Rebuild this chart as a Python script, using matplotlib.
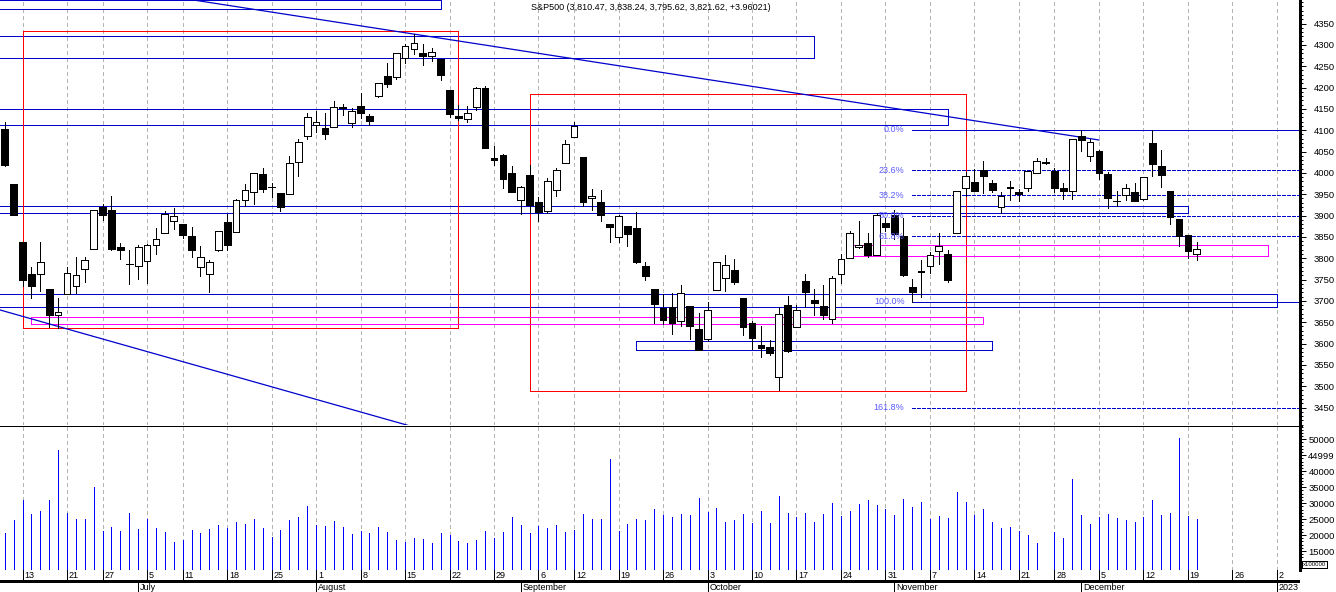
import matplotlib
matplotlib.use('Agg')
import matplotlib.pyplot as plt
from matplotlib.patches import Rectangle
from matplotlib.lines import Line2D
from matplotlib.ticker import MultipleLocator, FixedLocator, FixedFormatter
import numpy as np
import pandas as pd

plt.rcParams['font.family'] = ['Liberation Sans', 'DejaVu Sans']
# crisp, pixel-style lines like the charting package
plt.rcParams['lines.antialiased'] = False
plt.rcParams['patch.antialiased'] = False

# ---- data -------------------------------------------------------------
holidays = ['2022-06-20', '2022-07-04', '2022-09-05', '2022-11-24']
trade_days = pd.bdate_range('2022-06-09', '2022-12-20', freq='C', holidays=holidays)
future_days = pd.bdate_range('2022-12-21', '2023-01-06')

opens = [4101.65, 3974.39, 3838.15, 3763.52, 3764.05, 3728.18, 3665.90,
         3715.31, 3733.89, 3774.71, 3821.75, 3920.76, 3913.00, 3825.09, 3785.99,
         3781.00, 3792.61, 3831.98, 3858.85, 3888.26, 3880.94, 3851.95, 3779.67,
         3763.99, 3818.00, 3883.79, 3860.73, 3935.32, 3955.47, 3998.43, 3965.72,
         3953.22, 3951.43, 4026.13, 4087.33,
         4112.38, 4104.21, 4107.96, 4154.85, 4115.87, 4155.93, 4133.11, 4181.02,
         4227.40, 4225.02, 4269.37, 4290.46, 4280.40, 4273.13, 4266.31, 4195.08,
         4133.09, 4126.55, 4153.26, 4198.74, 4034.58, 4041.25, 4000.67,
         3936.73, 3994.66, 3930.89, 3909.43, 3959.94, 4022.94, 4083.67, 4037.12,
         3940.73, 3932.41, 3880.95, 3849.91, 3875.23, 3871.40, 3782.36, 3727.14,
         3682.72, 3686.44, 3651.94, 3687.01, 3633.48,
         3609.78, 3726.46, 3753.25, 3771.97, 3706.74, 3647.51, 3595.86, 3590.83,
         3520.37, 3690.41, 3638.65, 3746.26, 3703.11, 3689.05, 3657.10, 3762.01,
         3799.44, 3825.97, 3834.69, 3808.26, 3881.85,
         3901.79, 3852.90, 3733.25, 3766.98, 3780.71, 3817.02, 3810.94, 3859.89,
         3963.72, 3977.97, 4006.41, 3976.82, 3919.26, 3966.39, 3956.23, 3965.51,
         4000.30, 4023.34, 4005.36, 3964.19, 3957.18,
         4087.14, 4040.17, 4052.02, 3996.63, 3933.28, 3947.79, 3954.17, 3939.29,
         4069.38, 4015.54, 3958.37, 3890.91, 3853.79, 3810.47]
highs = [4119.10, 3974.39, 3838.15, 3778.18, 3837.56, 3728.18, 3707.71,
         3779.65, 3801.79, 3802.58, 3913.65, 3927.72, 3945.86, 3836.50, 3818.99,
         3829.82, 3832.19, 3870.91, 3910.63, 3918.50, 3880.94, 3873.41, 3829.44,
         3796.41, 3863.62, 3902.44, 3939.81, 3974.13, 3999.29, 4012.44, 3975.30,
         3953.22, 4039.56, 4078.95, 4140.15,
         4144.95, 4140.47, 4167.66, 4161.29, 4151.58, 4186.62, 4137.30, 4211.03,
         4257.91, 4280.47, 4301.79, 4325.28, 4302.18, 4292.53, 4266.31, 4195.08,
         4159.77, 4156.56, 4200.54, 4203.04, 4062.99, 4044.98, 4015.37,
         3970.23, 4018.43, 3942.55, 3987.89, 4010.50, 4076.81, 4119.28, 4037.12,
         3961.94, 3959.14, 3880.95, 3900.45, 3876.01, 3907.07, 3790.65, 3727.14,
         3715.67, 3717.53, 3736.74, 3687.01, 3671.44,
         3698.35, 3791.92, 3806.91, 3797.93, 3706.74, 3652.17, 3640.66, 3608.34,
         3685.41, 3712.00, 3689.73, 3762.79, 3728.58, 3736.00, 3757.89, 3810.74,
         3862.85, 3886.15, 3859.95, 3905.42, 3893.73,
         3911.79, 3894.44, 3750.59, 3796.34, 3813.95, 3859.40, 3818.20, 3958.33,
         4001.48, 4008.97, 4028.84, 3983.09, 3954.33, 3979.89, 3962.00, 4003.58,
         4033.78, 4034.02, 4012.27, 3976.77, 4080.11,
         4100.51, 4080.48, 4052.45, 4001.51, 3957.57, 3974.19, 3977.02, 3990.71,
         4100.96, 4053.76, 3958.37, 3890.91, 3854.86, 3838.24]
lows = [4017.17, 3900.16, 3734.30, 3705.68, 3722.30, 3639.77, 3636.87,
        3715.31, 3717.69, 3743.52, 3821.75, 3889.66, 3820.14, 3799.02, 3738.67,
        3752.10, 3742.06, 3809.37, 3858.85, 3869.34, 3847.22, 3802.36, 3759.07,
        3721.56, 3817.18, 3818.63, 3860.73, 3922.03, 3927.64, 3955.77, 3943.46,
        3910.74, 3951.43, 3992.97, 4079.22,
        4096.02, 4079.81, 4107.96, 4135.42, 4107.31, 4128.97, 4112.09, 4177.26,
        4201.41, 4219.78, 4256.90, 4277.77, 4253.08, 4261.98, 4218.70, 4129.86,
        4124.03, 4119.97, 4147.59, 4057.66, 4017.42, 3965.21, 3954.53,
        3903.65, 3906.21, 3886.75, 3906.03, 3944.81, 4022.94, 4083.67, 3921.73,
        3912.40, 3888.28, 3837.08, 3838.50, 3827.54, 3789.49, 3749.45, 3647.47,
        3644.76, 3623.29, 3640.61, 3610.40, 3584.13,
        3604.93, 3726.46, 3722.66, 3739.22, 3620.73, 3588.10, 3568.45, 3573.86,
        3491.58, 3579.68, 3638.65, 3686.53, 3666.51, 3656.44, 3647.42, 3741.65,
        3799.44, 3824.07, 3803.79, 3808.26, 3863.18,
        3843.80, 3758.68, 3698.15, 3708.84, 3764.70, 3786.28, 3744.22, 3859.89,
        3944.82, 3956.40, 3953.17, 3954.34, 3906.54, 3935.98, 3933.34, 3956.89,
        3998.66, 4020.76, 3955.77, 3937.65, 3938.58,
        4050.87, 4026.63, 3984.49, 3918.39, 3922.68, 3935.83, 3933.04, 3935.30,
        3993.03, 3965.65, 3879.45, 3827.91, 3800.04, 3795.62]
closes = [4017.82, 3900.86, 3749.63, 3735.48, 3789.99, 3666.77, 3674.84,
          3764.79, 3759.89, 3795.73, 3911.74, 3900.11, 3821.55, 3818.83, 3785.38,
          3825.33, 3831.39, 3845.08, 3902.62, 3899.38, 3854.43, 3818.80, 3801.78,
          3790.38, 3863.16, 3830.85, 3936.69, 3959.90, 3998.95, 3961.63, 3966.84,
          3921.05, 4023.61, 4072.43, 4130.29,
          4118.63, 4091.19, 4155.17, 4151.94, 4145.19, 4140.06, 4122.47, 4210.24,
          4207.27, 4280.15, 4297.14, 4305.20, 4274.04, 4283.74, 4228.48, 4137.99,
          4128.73, 4140.77, 4199.12, 4057.66, 4030.61, 3986.16, 3955.00,
          3966.85, 3924.26, 3908.19, 3979.87, 4006.18, 4067.36, 4110.41, 3932.69,
          3946.01, 3901.35, 3873.33, 3899.89, 3855.93, 3789.93, 3757.99, 3693.23,
          3655.04, 3647.29, 3719.04, 3640.47, 3585.62,
          3678.43, 3790.93, 3783.28, 3744.52, 3639.66, 3612.39, 3588.84, 3577.03,
          3669.91, 3583.07, 3677.95, 3719.98, 3695.16, 3665.78, 3752.75, 3797.34,
          3859.11, 3830.60, 3807.30, 3901.06, 3871.98,
          3856.10, 3759.69, 3719.89, 3770.55, 3806.80, 3828.11, 3748.57, 3956.37,
          3992.93, 3957.25, 3991.73, 3958.79, 3946.56, 3965.34, 3949.94, 4003.58,
          4027.26, 4026.12, 3963.94, 3957.63, 4080.11,
          4076.57, 4071.70, 3998.84, 3941.26, 3933.92, 3963.51, 3934.38, 3990.56,
          4019.65, 3995.32, 3895.75, 3852.36, 3817.66, 3821.62]
# volume in units of 100000 (Nov 25 has no bar)
volumes = [20600, 24700, 31000, 26600, 27500, 31000, 46600,
           26900, 25000, 25000, 35100, 21300, 22500, 21300, 26900,
           21900, 25000, 22200, 21000, 17800, 18500, 21600, 20600,
           21900, 23200, 22200, 24100, 23500, 25000, 22200, 19400,
           21600, 24700, 25700, 29100,
           23200, 22800, 24400, 22500, 20300, 21300, 20600, 22500,
           21000, 18500, 17800, 19100, 18800, 17500, 20600, 20000,
           18100, 17500, 18500, 21300, 19100, 21000, 25700,
           23200, 20600, 22800, 22200, 23200, 21000, 21600, 26600,
           25000, 25000, 43800, 21300, 23500, 25000, 24700, 28200,
           26300, 25700, 26600, 26300, 31600,
           27200, 28500, 24100, 24700, 26600, 23800, 27500, 23800,
           32200, 26900, 25700, 26900, 24100, 26600, 30000, 26000,
           27500, 29700, 31000, 29400, 28200,
           26300, 31300, 28800, 30400, 25000, 26000, 25300, 33500,
           30400, 26300, 28200, 24100, 22200, 22500, 21300, 20000,
           17500, np.nan, 21000, 19100, 37600,
           26300, 23500, 25700, 26600, 25300, 24700, 24100, 25700,
           31000, 26300, 26900, 50400, 26000, 25000]

title = 'S&P500 (3,810.47, 3,838.24, 3,795.62, 3,821.62, +3.96021)'
price_ticks = list(range(3450, 4351, 50))
vol_ticks = list(range(15000, 50001, 5000))
vol_tick_labels = ['15000', '20000', '25000', '30000', '35000', '40000', '44999', '50000']

# drawn objects: (bar index from, bar index to, price low, price high, colour)
boxes = [(-3, 49, 4383.3, 4404.4, '#0000cc'),
         (-3, 91, 4268.5, 4320.0, '#0000cc'),
         (-3, 106, 4111.4, 4149.6, '#0000cc'),
         (-3, 133, 3905.9, 3921.6, '#0000cc'),
         (-3, 143, 3685.0, 3716.8, '#0000cc'),
         (71, 111, 3584.1, 3605.2, '#0000cc'),
         (2, 51, 3635.7, 4331.7, '#ff0000'),
         (59, 108, 3488.7, 4184.1, '#ff0000'),
         (3, 110, 3645.0, 3661.4, '#ff00ff'),
         (95, 142, 3804.4, 3830.2, '#ff00ff')]
trend_lines = [((21.4, 123.0), (4404.5, 4077.0)),
               ((-0.53, 45.3), (3678.6, 3408.3))]
fib_hi, fib_lo, fib_start = 4101.0, 3698.0, 102
fib_levels = [0.0, 23.6, 38.2, 50.0, 61.8, 100.0, 161.8]

# ---- layout -----------------------------------------------------------
W, H = 1336, 592
fig = plt.figure(figsize=(W / 100, H / 100), dpi=100)
ax = fig.add_axes([0, 167 / H, 1300 / W, 425 / H])
vax = fig.add_axes([0, 22 / H, 1300 / W, 145 / H])
dax = fig.add_axes([0, 0, 1300 / W, 22 / H])

n = len(opens)
x = np.arange(n)
all_days = trade_days.append(future_days)
pos = pd.Series(np.arange(len(all_days)), index=all_days)
iso = all_days.isocalendar()
week_first = pos.groupby([iso.year.values, iso.week.values]).min().values
week_first = week_first[week_first > 0]
month_first = pos.groupby([all_days.year, all_days.month]).min().values
month_first = month_first[month_first > 0]

xlim = (-0.53, 145.6)
for a in (ax, vax, dax):
    a.set_xlim(*xlim)
    a.set_facecolor('white')

ax.set_ylim(3409.0, 4405.1)
vax.set_ylim(9052, 54480)
dax.set_ylim(0, 1)

LW = 0.72  # one pixel

# weekly dashed grid
for a in (ax, vax):
    for w in week_first:
        a.axvline(w, color='#b4b4b4', lw=LW, ls=(0, (3, 3)), zorder=0)

# boxes and lines
for x0, x1, y0, y1, col in boxes:
    ax.add_patch(Rectangle((x0, y0), x1 - x0, y1 - y0, fill=False,
                           edgecolor=col, lw=LW, zorder=2))
for xs, ys in trend_lines:
    ax.plot(xs, ys, color='#0000cc', lw=0.9, antialiased=True, zorder=2)

for lv in fib_levels:
    p = fib_hi - (fib_hi - fib_lo) * lv / 100.0
    ls = '-' if lv in (0.0, 100.0) else (0, (3, 2))
    ax.hlines(p, fib_start, xlim[1], colors='#0000cc', lw=LW, linestyles=ls, zorder=2)
    ax.text(fib_start - 0.85, p, '%.1f%%' % lv, ha='right', va='center',
            color='#5a5aff', fontsize=6.5, zorder=6)

# candles
o = np.array(opens)
c = np.array(closes)
ax.vlines(x, lows, highs, colors='black', lw=LW, zorder=4)
ax.bar(x, np.abs(c - o), bottom=np.minimum(o, c), width=0.76,
       color=np.where(c >= o, 'white', 'black'), edgecolor='black', lw=LW, zorder=5)

ax.text(0.5004, 1 - 7 / 425, title, transform=ax.transAxes, ha='center',
        va='center', fontsize=6.5)

# volume
v = np.array(volumes, dtype=float)
ok = ~np.isnan(v)
vax.vlines(x[ok], vax.get_ylim()[0], v[ok], colors='#0000ff', lw=LW, zorder=3)

# axes styling
for a in (ax, vax):
    a.yaxis.tick_right()
    a.tick_params(axis='x', bottom=False, labelbottom=False)
    a.spines['left'].set_visible(False)
    a.spines['top'].set_visible(False)
    a.spines['bottom'].set_visible(False)
    a.spines['right'].set_linewidth(1.0)
    a.tick_params(axis='y', which='major', length=4, width=LW, pad=21, labelsize=6.8)
    a.tick_params(axis='y', which='minor', length=2, width=LW)

ax.yaxis.set_major_locator(FixedLocator(price_ticks))
ax.yaxis.set_minor_locator(MultipleLocator(10))
vax.yaxis.set_major_locator(FixedLocator(vol_ticks))
vax.yaxis.set_major_formatter(FixedFormatter(vol_tick_labels))
vax.yaxis.set_minor_locator(MultipleLocator(1000))
for a in (ax, vax):
    plt.setp(a.get_yticklabels(), ha='right')

# panel separator between price and volume
fig.add_artist(Line2D([0, 1302 / W], [166.5 / H, 166.5 / H], transform=fig.transFigure,
                      color='black', lw=LW, zorder=10))

fig.text(1303 / W, 1 - 564.5 / H, 'x100000', ha='left', va='center', fontsize=4.3,
         bbox=dict(boxstyle='square,pad=0.12', fc='white', ec='black', lw=0.6))

# date strip
dax.axis('off')
dax.axhline(0.5, color='black', lw=1.0)
dax.vlines(week_first, 0.5, 1.0, colors='black', lw=LW)
dax.vlines(month_first, 0.0, 0.5, colors='black', lw=LW)
for w in week_first:
    dax.text(w + 0.2, 0.74, str(all_days[w].day), ha='left', va='center', fontsize=6.5)
for m in month_first:
    d = all_days[m]
    label = str(d.year) if d.month == 1 else d.strftime('%B')
    dax.text(m + 0.2, 0.22, label, ha='left', va='center', fontsize=6.5)

fig.savefig('out.png', dpi=100)
